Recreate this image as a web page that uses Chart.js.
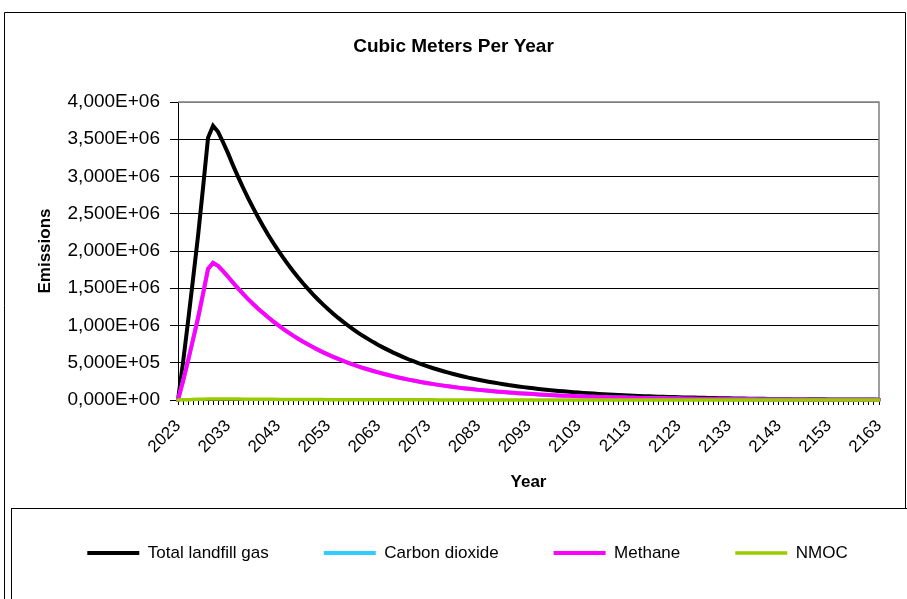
<!DOCTYPE html>
<html>
<head>
<meta charset="utf-8">
<script src="https://cdn.jsdelivr.net/npm/chart.js@4.4.0/dist/chart.umd.min.js"></script>
<style>
  html, body { margin: 0; padding: 0; background: #fff; }
  #wrap { width: 907px; height: 599px; }
</style>
</head>
<body>
<div id="wrap"><canvas id="chart" width="907" height="599"></canvas></div>
<script>
// categories
const years = [
  2023, 2024, 2025, 2026, 2027, 2028, 2029, 2030, 2031, 2032,
  2033, 2034, 2035, 2036, 2037, 2038, 2039, 2040, 2041, 2042,
  2043, 2044, 2045, 2046, 2047, 2048, 2049, 2050, 2051, 2052,
  2053, 2054, 2055, 2056, 2057, 2058, 2059, 2060, 2061, 2062,
  2063, 2064, 2065, 2066, 2067, 2068, 2069, 2070, 2071, 2072,
  2073, 2074, 2075, 2076, 2077, 2078, 2079, 2080, 2081, 2082,
  2083, 2084, 2085, 2086, 2087, 2088, 2089, 2090, 2091, 2092,
  2093, 2094, 2095, 2096, 2097, 2098, 2099, 2100, 2101, 2102,
  2103, 2104, 2105, 2106, 2107, 2108, 2109, 2110, 2111, 2112,
  2113, 2114, 2115, 2116, 2117, 2118, 2119, 2120, 2121, 2122,
  2123, 2124, 2125, 2126, 2127, 2128, 2129, 2130, 2131, 2132,
  2133, 2134, 2135, 2136, 2137, 2138, 2139, 2140, 2141, 2142,
  2143, 2144, 2145, 2146, 2147, 2148, 2149, 2150, 2151, 2152,
  2153, 2154, 2155, 2156, 2157, 2158, 2159, 2160, 2161, 2162,
  2163
];
// years that get a tick label
const labeledYears = [2023, 2033, 2043, 2053, 2063, 2073, 2083, 2093, 2103, 2113, 2123, 2133, 2143, 2153, 2163];

// series values, thousand m3 per year
const totalGas = [
  0, 500, 1050, 1620, 2200, 2850, 3520, 3680, 3600, 3460,
  3310, 3149, 2995, 2849, 2710, 2578, 2452, 2333, 2219, 2111,
  2008, 1910, 1817, 1728, 1644, 1564, 1488, 1415, 1346, 1280,
  1218, 1159, 1102, 1048, 997, 949, 902, 858, 817, 777,
  739, 703, 669, 636, 605, 575, 547, 521, 495, 471,
  448, 426, 406, 386, 367, 349, 332, 316, 300, 286,
  272, 259, 246, 234, 223, 212, 201, 192, 182, 173,
  165, 157, 149, 142, 135, 128, 122, 116, 111, 105,
  100, 95, 90, 86, 82, 78, 74, 70, 67, 64,
  61, 58, 55, 52, 50, 47, 45, 43, 41, 39,
  37, 35, 33, 32, 30, 29, 27, 26, 25, 23,
  22, 21, 20, 19, 18, 17, 16.5, 15.7, 15, 14,
  13.5, 12.8, 12, 11.6, 11, 10.5, 10, 9.5, 9, 8.6,
  8.2, 7.8, 7.4, 7, 6.7, 6.4, 6, 5.8, 5.5, 5.2,
  5
];
const carbonDioxide = [
  0, 250, 525, 810, 1100, 1425, 1760, 1840, 1800, 1730,
  1655, 1575, 1498, 1425, 1355, 1289, 1226, 1167, 1110, 1056,
  1004, 955, 909, 864, 822, 782, 744, 708, 673, 640,
  609, 580, 551, 524, 499, 475, 451, 429, 409, 389,
  370, 352, 335, 318, 303, 288, 274, 261, 248, 236,
  224, 213, 203, 193, 184, 175, 166, 158, 150, 143,
  136, 130, 123, 117, 112, 106, 101, 96, 91, 87,
  83, 79, 75, 71, 68, 64, 61, 58, 56, 53,
  50, 48, 45, 43, 41, 39, 37, 35, 34, 32,
  31, 29, 28, 26, 25, 24, 23, 22, 21, 20,
  19, 18, 17, 16, 15, 14.5, 13.5, 13, 12.5, 12,
  11, 10.5, 10, 9.5, 9, 8.5, 8.3, 7.9, 7.5, 7,
  6.8, 6.4, 6, 5.8, 5.5, 5.3, 5, 4.8, 4.5, 4.3,
  4.1, 3.9, 3.7, 3.5, 3.4, 3.2, 3, 2.9, 2.8, 2.6,
  2.5
];
const methane = [
  0, 250, 525, 810, 1100, 1425, 1760, 1840, 1800, 1730,
  1655, 1575, 1498, 1425, 1355, 1289, 1226, 1167, 1110, 1056,
  1004, 955, 909, 864, 822, 782, 744, 708, 673, 640,
  609, 580, 551, 524, 499, 475, 451, 429, 409, 389,
  370, 352, 335, 318, 303, 288, 274, 261, 248, 236,
  224, 213, 203, 193, 184, 175, 166, 158, 150, 143,
  136, 130, 123, 117, 112, 106, 101, 96, 91, 87,
  83, 79, 75, 71, 68, 64, 61, 58, 56, 53,
  50, 48, 45, 43, 41, 39, 37, 35, 34, 32,
  31, 29, 28, 26, 25, 24, 23, 22, 21, 20,
  19, 18, 17, 16, 15, 14.5, 13.5, 13, 12.5, 12,
  11, 10.5, 10, 9.5, 9, 8.5, 8.3, 7.9, 7.5, 7,
  6.8, 6.4, 6, 5.8, 5.5, 5.3, 5, 4.8, 4.5, 4.3,
  4.1, 3.9, 3.7, 3.5, 3.4, 3.2, 3, 2.9, 2.8, 2.6,
  2.5
];
const nmoc = [
  0, 2, 4.2, 6.5, 8.8, 11.4, 14.1, 14.7, 14.4, 13.8,
  13.2, 12.6, 12, 11.4, 10.8, 10.3, 9.8, 9.3, 8.9, 8.4,
  8, 7.6, 7.3, 6.9, 6.6, 6.3, 6, 5.7, 5.4, 5.1,
  4.9, 4.6, 4.4, 4.2, 4, 3.8, 3.6, 3.4, 3.3, 3.1,
  3, 2.8, 2.7, 2.5, 2.4, 2.3, 2.2, 2.1, 2, 1.9,
  1.8, 1.7, 1.6, 1.5, 1.5, 1.4, 1.3, 1.3, 1.2, 1.1,
  1.1, 1, 1, 0.9, 0.9, 0.8, 0.8, 0.8, 0.7, 0.7,
  0.7, 0.6, 0.6, 0.6, 0.5, 0.5, 0.5, 0.5, 0.4, 0.4,
  0.4, 0.4, 0.4, 0.3, 0.3, 0.3, 0.3, 0.3, 0.3, 0.3,
  0.2, 0.2, 0.2, 0.2, 0.2, 0.2, 0.2, 0.2, 0.2, 0.2,
  0.15, 0.15, 0.15, 0.15, 0.15, 0.15, 0.15, 0.15, 0.15, 0.15,
  0.1, 0.1, 0.1, 0.1, 0.1, 0.1, 0.1, 0.1, 0.1, 0.1,
  0.05, 0.05, 0.05, 0.05, 0.05, 0.05, 0.05, 0.05, 0.05, 0.05,
  0.03, 0.03, 0.03, 0.03, 0.03, 0.03, 0.03, 0.03, 0.03, 0.03,
  0.02
];

const FONT = '"Liberation Sans", Arial, sans-serif';
Chart.defaults.font.family = FONT;
Chart.defaults.color = '#000';

// 4000000 -> "4,000E+06"
function sciLabel(v) {
  const [m, e] = Number(v).toExponential(3).split('e');
  const n = parseInt(e, 10);
  return m.replace('.', ',') + 'E' + (n < 0 ? '-' : '+') + String(Math.abs(n)).padStart(2, '0');
}

// white page, outer chart frame, legend box, grey plot border
const framePlugin = {
  id: 'frame',
  beforeDraw(chart) {
    const { ctx, width, height } = chart;
    ctx.save();
    ctx.fillStyle = '#fff';
    ctx.fillRect(0, 0, width, height);
    ctx.strokeStyle = '#000';
    ctx.lineWidth = 1;
    ctx.beginPath();
    ctx.moveTo(4.5, height);
    ctx.lineTo(4.5, 12.5);
    ctx.lineTo(905.5, 12.5);
    ctx.lineTo(905.5, 508.5);
    ctx.stroke();
    ctx.strokeRect(11.5, 508.5, width, height);
    ctx.restore();
  },
  beforeDatasetsDraw(chart) {
    const { ctx, chartArea: a } = chart;
    ctx.save();
    ctx.strokeStyle = '#808080';
    ctx.lineWidth = 1.5;
    ctx.beginPath();
    ctx.moveTo(a.left, a.top);
    ctx.lineTo(a.right, a.top);
    ctx.lineTo(a.right, a.bottom);
    ctx.stroke();
    ctx.restore();
  },
  afterLayout(chart) {
    // nudge legend right, like the original
    chart.legend.left += 14;
    chart.legend.right += 14;
  }
};

const series = [
  { label: 'Total landfill gas', values: totalGas, color: '#000000', order: 3, width: 4 },
  { label: 'Carbon dioxide', values: carbonDioxide, color: '#33CCFF', order: 2, width: 4 },
  { label: 'Methane', values: methane, color: '#FF00FF', order: 1, width: 4 },
  { label: 'NMOC', values: nmoc, color: '#99CC00', order: 0, width: 3.5 },
];

new Chart(document.getElementById('chart'), {
  type: 'line',
  data: {
    labels: years,
    datasets: series.map(s => ({
      label: s.label,
      data: s.values.map(v => v * 1000),
      borderColor: s.color,
      backgroundColor: s.color,
      borderWidth: s.width,
      borderCapStyle: 'round',
      pointRadius: 0,
      pointHoverRadius: 0,
      tension: 0,
      clip: false,
      order: s.order,
    })),
  },
  options: {
    responsive: false,
    animation: false,
    layout: { padding: { left: 14, right: 14, top: 0, bottom: 27.5 } },
    scales: {
      x: {
        type: 'category',
        offset: false,
        grid: { drawOnChartArea: false, drawTicks: true, tickLength: 5, color: '#000' },
        border: { display: true, color: '#000' },
        ticks: {
          autoSkip: false,
          maxRotation: 45,
          minRotation: 45,
          padding: 11,
          font: { size: 17 },
          callback(v, i) {
            const y = years[i];
            return labeledYears.includes(y) ? String(y) : '';
          },
        },
        title: { display: true, text: 'Year', font: { size: 17, weight: 'bold' }, padding: { top: 0, bottom: -2.7 } },
        afterFit(s) { s.height = 89.5; },
      },
      y: {
        min: 0,
        max: 4000000,
        ticks: { stepSize: 500000, padding: 10, font: { size: 19 }, callback: sciLabel },
        grid: {
          color: c => (c.tick && c.tick.value === 4000000 ? '#808080' : '#000'),
          tickColor: '#000',
          tickLength: 8,
        },
        border: { color: '#000' },
        title: { display: true, text: 'Emissions', font: { size: 17, weight: 'bold' }, padding: { top: 21, bottom: 0 } },
        afterFit(s) { s.width = 164; },
      },
      yRight: {
        type: 'linear',
        position: 'right',
        display: true,
        grid: { display: false },
        ticks: { display: false },
        border: { display: false },
        afterFit(s) { s.width = 14; },
      },
    },
    plugins: {
      title: {
        display: true,
        text: 'Cubic Meters Per Year',
        font: { size: 19, weight: 'bold' },
        color: '#000',
        padding: { top: 35.6, bottom: 43.6 },
      },
      legend: {
        position: 'bottom',
        labels: {
          usePointStyle: true,
          pointStyle: 'line',
          pointStyleWidth: 52,
          padding: 55,
          font: { size: 17 },
          color: '#000',
          sort: (a, b) => a.datasetIndex - b.datasetIndex,
        },
      },
      tooltip: { enabled: false },
    },
  },
  plugins: [framePlugin],
});
</script>
</body>
</html>
